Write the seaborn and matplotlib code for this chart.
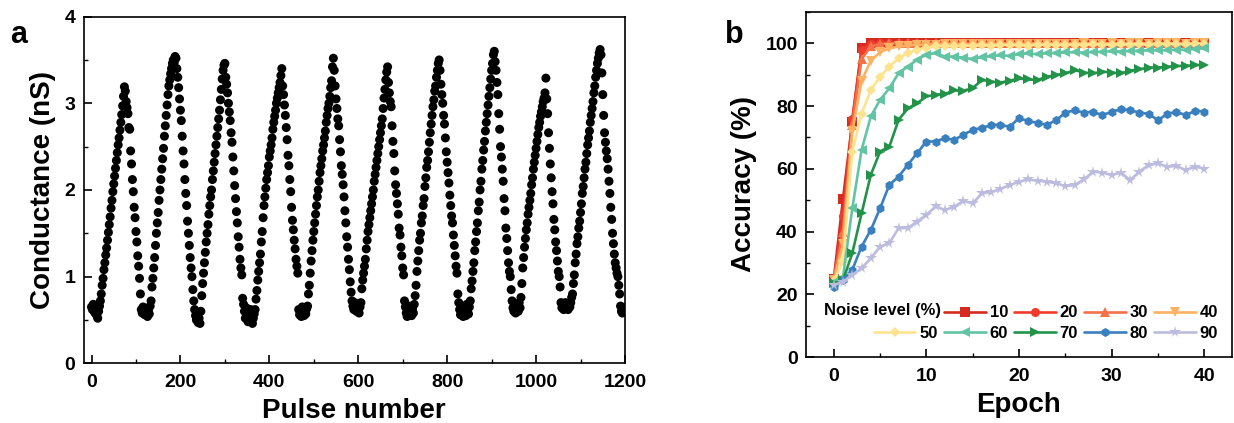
import numpy as np
import matplotlib
matplotlib.use("Agg")
import matplotlib.pyplot as plt
import seaborn as sns
from matplotlib.ticker import MultipleLocator
from matplotlib.lines import Line2D

# ---------------- Panel a data: conductance vs pulse number (every 2nd pulse) ----------------
pulse_step = 2
cycle1 = [0.65, 0.62, 0.68, 0.60, 0.58, 0.64, 0.55, 0.52, 0.60, 0.66,
          0.72, 0.80, 0.90, 0.98, 1.08, 1.16, 1.25, 1.33, 1.42, 1.51, 1.60, 1.69, 1.79, 1.88,
          1.98, 2.07, 2.16, 2.25, 2.34, 2.43, 2.52, 2.60, 2.69, 2.78, 2.87, 2.97, 3.08, 3.19,
          3.14, 3.02, 2.95, 2.88, 2.72, 2.70, 2.45, 2.30, 2.12, 1.98, 1.80, 1.68, 1.52, 1.40,
          1.24, 1.12, 0.98, 0.80]
cycle2 = [0.62, 0.58, 0.65, 0.60, 0.56, 0.63, 0.59, 0.54, 0.61, 0.57, 0.66, 0.72,
          0.88, 0.98, 1.10, 1.22, 1.36, 1.50, 1.62, 1.74, 1.88, 2.00, 2.12, 2.24, 2.36, 2.48,
          2.62, 2.74, 2.86, 2.98, 3.10, 3.20, 3.27, 3.34, 3.40, 3.46, 3.50, 3.47, 3.54, 3.52,
          3.40, 3.30, 3.18, 3.05, 2.92, 2.80, 2.62, 2.45, 2.30, 2.12, 1.96, 1.82, 1.64, 1.50,
          1.36, 1.22, 1.10, 1.00]
cycle3 = [0.85, 0.72, 0.62, 0.55, 0.50, 0.58, 0.47, 0.52, 0.46, 0.60,
          0.78, 0.92, 1.04, 1.16, 1.28, 1.40, 1.50, 1.60, 1.72, 1.82, 1.92, 2.00, 2.12, 2.22,
          2.32, 2.42, 2.52, 2.62, 2.72, 2.82, 2.92, 3.04, 3.16, 3.28, 3.38, 3.44, 3.46,
          3.30, 3.22, 3.12, 3.00, 2.90, 2.80, 2.66, 2.55, 2.38, 2.22, 2.05, 1.90, 1.75, 1.62,
          1.46, 1.34, 1.20, 1.10, 1.02, 0.75]
cycle4 = [0.68, 0.60, 0.52, 0.64, 0.56, 0.48, 0.58, 0.50, 0.62, 0.54, 0.46, 0.52, 0.57,
          0.62, 0.74, 0.84, 0.96, 1.06, 1.16, 1.26, 1.40, 1.52, 1.68, 1.82, 1.92, 2.02, 2.12,
          2.20, 2.28, 2.38, 2.45, 2.52, 2.60, 2.70, 2.78, 2.85, 2.92, 3.00, 3.06, 3.12, 3.18,
          3.24, 3.32, 3.40,
          3.20, 3.10, 2.98, 2.86, 2.72, 2.58, 2.40, 2.28, 2.12, 1.98, 1.80, 1.65, 1.54, 1.42,
          1.32, 1.20, 1.12, 1.04]
cycle5 = [0.62, 0.56, 0.60, 0.54, 0.65, 0.58, 0.55, 0.61, 0.57, 0.63, 0.66,
          0.80, 0.90, 1.04, 1.18, 1.30, 1.42, 1.52, 1.62, 1.72, 1.82, 1.92, 2.00, 2.10, 2.20,
          2.28, 2.36, 2.45, 2.52, 2.60, 2.68, 2.78, 2.86, 2.94, 3.00, 3.08, 3.18, 3.26, 3.42,
          3.52,
          3.38, 3.20, 3.05, 2.94, 2.82, 2.74, 2.58, 2.44, 2.28, 2.18, 2.06, 1.92, 1.76, 1.62,
          1.46, 1.34, 1.20, 1.08, 0.94, 0.82]
cycle6 = [0.72, 0.66, 0.62, 0.70, 0.64, 0.60, 0.68, 0.62, 0.58, 0.65, 0.70,
          0.86, 0.96, 1.04, 1.12, 1.20, 1.32, 1.42, 1.52, 1.60, 1.68, 1.76, 1.84, 1.92, 2.00,
          2.10, 2.18, 2.26, 2.34, 2.42, 2.50, 2.58, 2.66, 2.74, 2.82, 2.94, 3.06, 3.16, 3.27,
          3.36, 3.42,
          3.24, 3.12, 3.02, 2.96, 2.74, 2.56, 2.42, 2.22, 2.06, 1.96, 1.84, 1.72, 1.56, 1.48,
          1.34, 1.24, 1.10, 1.02]
cycle7 = [0.72, 0.65, 0.58, 0.54, 0.62, 0.56, 0.66, 0.60, 0.55, 0.63, 0.58, 0.68, 0.78,
          0.90, 1.06, 1.18, 1.30, 1.42, 1.50, 1.62, 1.70, 1.82, 1.90, 2.04, 2.14, 2.26, 2.34,
          2.44, 2.55, 2.66, 2.76, 2.86, 2.96, 3.04, 3.14, 3.20, 3.30, 3.38, 3.46, 3.50,
          3.38, 3.22, 3.10, 3.00, 2.86, 2.76, 2.60, 2.44, 2.32, 2.20, 2.08, 1.94, 1.82, 1.70,
          1.62, 1.48, 1.36, 1.24, 1.12, 1.04, 0.80]
cycle8 = [0.70, 0.62, 0.56, 0.66, 0.58, 0.54, 0.64, 0.60, 0.55, 0.68, 0.62, 0.57, 0.65, 0.72,
          0.86, 0.95, 1.06, 1.16, 1.30, 1.40, 1.52, 1.62, 1.76, 1.86, 2.00, 2.10, 2.24, 2.34,
          2.46, 2.56, 2.68, 2.78, 2.88, 2.98, 3.08, 3.18, 3.28, 3.38, 3.46, 3.56, 3.60,
          3.48, 3.38, 3.24, 3.10, 2.88, 2.70, 2.50, 2.38, 2.24, 2.10, 1.90, 1.76, 1.56, 1.44,
          1.30, 1.16, 1.06, 1.00]
cycle9 = [0.85, 0.72, 0.64, 0.60, 0.68, 0.58, 0.62, 0.66, 0.60, 0.70, 0.64, 0.76, 0.92,
          1.10, 1.22, 1.34, 1.44, 1.54, 1.62, 1.72, 1.80, 1.88, 1.96, 2.06, 2.14, 2.24, 2.32,
          2.40, 2.48, 2.56, 2.64, 2.72, 2.78, 2.85, 2.90, 2.96, 3.02, 3.06, 3.12, 3.29,
          3.05, 2.88, 2.66, 2.48, 2.30, 2.14, 1.98, 1.84, 1.66, 1.54, 1.40, 1.30, 1.18, 1.06,
          1.00, 0.88]
cycle10 = [0.70, 0.64, 0.68, 0.62, 0.66, 0.70, 0.64, 0.67, 0.62, 0.68, 0.65, 0.70, 0.76,
           0.80, 0.92, 1.02, 1.16, 1.26, 1.38, 1.46, 1.56, 1.64, 1.74, 1.84, 1.96, 2.04, 2.14,
           2.24, 2.32, 2.42, 2.52, 2.60, 2.68, 2.78, 2.86, 2.94, 3.02, 3.12, 3.20, 3.30, 3.38,
           3.46, 3.52, 3.58, 3.62, 3.56,
           3.35, 3.10, 2.86, 2.66, 2.55, 2.45, 2.36, 2.24, 2.10, 1.96, 1.80, 1.66, 1.50, 1.38,
           1.26, 1.16, 1.10, 1.04, 1.00, 0.90, 0.80, 0.66, 0.60, 0.58, 0.64, 0.60]
conductance = (cycle1 + cycle2 + cycle3 + cycle4 + cycle5 +
               cycle6 + cycle7 + cycle8 + cycle9 + cycle10)
pulses = np.arange(len(conductance)) * pulse_step

# ---------------- Panel b data: accuracy vs epoch ----------------
epochs = list(range(41))
noise_levels = [10, 20, 30, 40, 50, 60, 70, 80, 90]
acc10 = [24.8, 50.5, 75.0, 98.5, 100.0, 100.0, 100.0, 100.0, 100.0, 100.0, 100.0, 100.0, 100.0,
         100.0, 100.0, 100.0, 100.0, 100.0, 100.0, 100.0, 100.0, 100.0, 100.0, 100.0, 100.0,
         100.0, 100.0, 100.0, 100.0, 100.0, 100.0, 100.0, 100.0, 100.0, 100.0, 100.0, 100.0,
         100.0, 100.0, 100.0, 100.0]
acc20 = [24.2, 45.0, 76.0, 98.0, 99.8, 100.0, 100.0, 100.0, 100.0, 100.0, 100.0, 100.0, 100.0,
         100.0, 100.0, 100.0, 100.0, 100.0, 100.0, 100.0, 100.0, 100.0, 100.0, 100.0, 100.0,
         100.0, 100.0, 100.0, 100.0, 100.0, 100.0, 100.0, 100.0, 100.0, 100.0, 100.0, 100.0,
         100.0, 100.0, 100.0, 100.0]
acc30 = [25.0, 40.0, 74.0, 95.0, 99.0, 99.8, 100.0, 100.0, 100.0, 100.0, 100.0, 100.0, 100.0,
         100.0, 100.0, 100.0, 100.0, 100.0, 100.0, 100.0, 100.0, 100.0, 100.0, 100.0, 100.0,
         100.0, 100.0, 100.0, 100.0, 100.0, 100.0, 100.0, 100.0, 100.0, 100.0, 100.0, 100.0,
         100.0, 100.0, 100.0, 100.0]
acc40 = [24.6, 36.0, 72.0, 88.0, 94.5, 97.2, 98.4, 99.0, 99.3, 99.5, 99.6, 99.6, 99.7, 99.7,
         99.8, 99.7, 99.8, 99.8, 99.8, 99.9, 99.8, 99.9, 99.9, 99.8, 99.9, 99.9, 99.9, 100.0,
         99.9, 99.9, 100.0, 99.9, 100.0, 100.0, 99.9, 100.0, 100.0, 100.0, 99.9, 100.0, 100.0]
acc50 = [24.2, 30.5, 65.5, 77.5, 85.2, 89.4, 92.6, 95.3, 96.9, 98.0, 98.6, 99.0, 99.2, 99.0,
         99.3, 99.2, 99.4, 99.3, 99.5, 99.4, 99.5, 99.3, 99.6, 99.5, 99.6, 99.4, 99.6, 99.5,
         99.7, 99.6, 99.6, 99.7, 99.5, 99.7, 99.6, 99.7, 99.8, 99.7, 99.7, 99.8, 99.8]
acc60 = [23.8, 25.6, 47.4, 66.0, 76.7, 82.0, 85.7, 90.5, 92.6, 94.8, 96.4, 96.9, 95.8, 95.8,
         95.4, 95.0, 95.6, 95.9, 96.2, 96.0, 96.5, 96.8, 96.5, 96.9, 96.9, 97.1, 97.2, 97.0,
         97.3, 97.3, 97.5, 97.4, 97.6, 97.6, 97.8, 97.8, 97.8, 98.0, 98.0, 98.2, 98.4]
acc70 = [23.5, 24.5, 33.1, 45.8, 58.1, 65.5, 67.1, 75.6, 79.3, 80.9, 83.1, 83.6, 83.9, 85.0,
         84.9, 85.7, 88.4, 87.8, 87.5, 88.1, 88.8, 88.5, 88.3, 89.4, 89.9, 90.4, 91.5, 90.7,
         90.4, 91.0, 90.7, 90.4, 91.3, 91.7, 92.3, 92.3, 92.5, 92.8, 92.8, 93.1, 93.1]
acc80 = [22.4, 24.6, 27.8, 35.2, 40.5, 47.4, 54.9, 57.5, 61.3, 65.0, 68.7, 68.7, 69.8, 69.2,
         70.9, 72.4, 73.1, 73.9, 74.0, 73.4, 76.2, 75.2, 74.7, 74.0, 75.5, 77.9, 78.7, 77.9,
         78.2, 77.1, 78.2, 79.0, 78.7, 77.9, 77.5, 75.5, 77.5, 78.2, 77.1, 78.5, 78.2]
acc90 = [23.0, 24.0, 26.2, 28.3, 31.5, 35.2, 36.3, 41.1, 41.1, 43.2, 45.3, 48.0, 46.9, 47.9,
         49.8, 49.0, 52.2, 52.5, 53.6, 54.8, 55.9, 56.6, 56.2, 55.9, 55.4, 54.5, 54.8, 56.6,
         59.1, 58.8, 58.0, 58.8, 56.4, 59.1, 61.2, 61.7, 60.7, 60.9, 59.6, 60.7, 60.1]
accuracy = [acc10, acc20, acc30, acc40, acc50, acc60, acc70, acc80, acc90]

colors = ["#d42a20", "#ee3b2b", "#f4714a", "#fdb263", "#fee38f",
          "#63c4a4", "#23934a", "#3a80be", "#bcbcdf"]
markers = ["s", "o", "^", "v", "D", "<", ">", "h", "*"]

# ---------------- style ----------------
sns.set_style("ticks")
plt.rcParams["font.family"] = ["Liberation Sans", "DejaVu Sans"]
plt.rcParams["font.weight"] = "bold"
plt.rcParams["axes.labelweight"] = "bold"
plt.rcParams["axes.linewidth"] = 1.2
plt.rcParams["xtick.direction"] = "in"
plt.rcParams["ytick.direction"] = "in"
for key in ["text.color", "axes.labelcolor", "xtick.color", "ytick.color",
            "axes.edgecolor"]:
    plt.rcParams[key] = "black"

fig = plt.figure(figsize=(12.34, 4.23), dpi=100)
axA = fig.add_axes([83.5 / 1234, 1 - 363.3 / 423, (625 - 83.5) / 1234, (363.3 - 16.6) / 423])
axB = fig.add_axes([806 / 1234, 1 - 357 / 423, (1232 - 806) / 1234, (357 - 12) / 423])

# ---- panel a ----
sns.scatterplot(x=pulses, y=conductance, ax=axA, color="black", s=42, linewidth=0,
                edgecolor="none", legend=False)
axA.set_xlim(-18, 1200)
axA.set_ylim(0, 4)
axA.xaxis.set_major_locator(MultipleLocator(200))
axA.xaxis.set_minor_locator(MultipleLocator(100))
axA.yaxis.set_major_locator(MultipleLocator(1))
axA.yaxis.set_minor_locator(MultipleLocator(0.5))
axA.set_xlabel("Pulse number", fontsize=20, fontweight="bold", labelpad=5)
axA.set_ylabel("Conductance (nS)", fontsize=20, fontweight="bold", labelpad=6)

# ---- panel b ----
for lvl, vals, c, m in zip(noise_levels, accuracy, colors, markers):
    ms = 8.5 if m == "*" else 6.5
    if m == "D":
        ms = 5.5
    sns.lineplot(x=epochs, y=vals, ax=axB, color=c, marker=m, markersize=ms,
                 markeredgewidth=0, linewidth=1.9, label=str(lvl))
axB.set_xlim(-3, 43)
axB.set_ylim(0, 110)
axB.xaxis.set_major_locator(MultipleLocator(10))
axB.xaxis.set_minor_locator(MultipleLocator(5))
axB.yaxis.set_major_locator(MultipleLocator(20))
axB.yaxis.set_minor_locator(MultipleLocator(10))
axB.set_xlabel("Epoch", fontsize=20, fontweight="bold", labelpad=5)
axB.set_ylabel("Accuracy (%)", fontsize=20, fontweight="bold", labelpad=6)

handles, labels = axB.get_legend_handles_labels()
hmap = dict(zip(labels, handles))
blank = Line2D([], [], color="none")
order = ["", "50", "10", "60", "20", "70", "30", "80", "40", "90"]
leg_handles = [blank if k == "" else hmap[k] for k in order]
leg = axB.legend(leg_handles, order, ncol=5, loc="lower right",
                 bbox_to_anchor=(0.995, 0.012), frameon=False,
                 prop={"size": 12, "weight": "bold"}, handlelength=2.5,
                 handletextpad=0.25, columnspacing=0.35, labelspacing=0.35,
                 borderpad=0.2)
axB.text(0.318, 0.136, "Noise level (%)", transform=axB.transAxes, ha="right",
         va="center", fontsize=12, fontweight="bold")

for ax in (axA, axB):
    ax.tick_params(which="major", length=6, width=1.2, labelsize=14, pad=8,
                   top=False, right=False, colors="black")
    ax.tick_params(which="minor", length=3, width=1.0, top=False, right=False,
                   colors="black")
    ax.tick_params(axis="y", which="major", pad=6)
    for lab in ax.get_xticklabels() + ax.get_yticklabels():
        lab.set_fontweight("bold")
    for sp in ax.spines.values():
        sp.set_visible(True)
        sp.set_color("black")

fig.text(10 / 1234, 1 - 43 / 423, "a", fontsize=22, fontweight="bold")
fig.text(725 / 1234, 1 - 43 / 423, "b", fontsize=22, fontweight="bold")

fig.savefig("out.png", dpi=100)
